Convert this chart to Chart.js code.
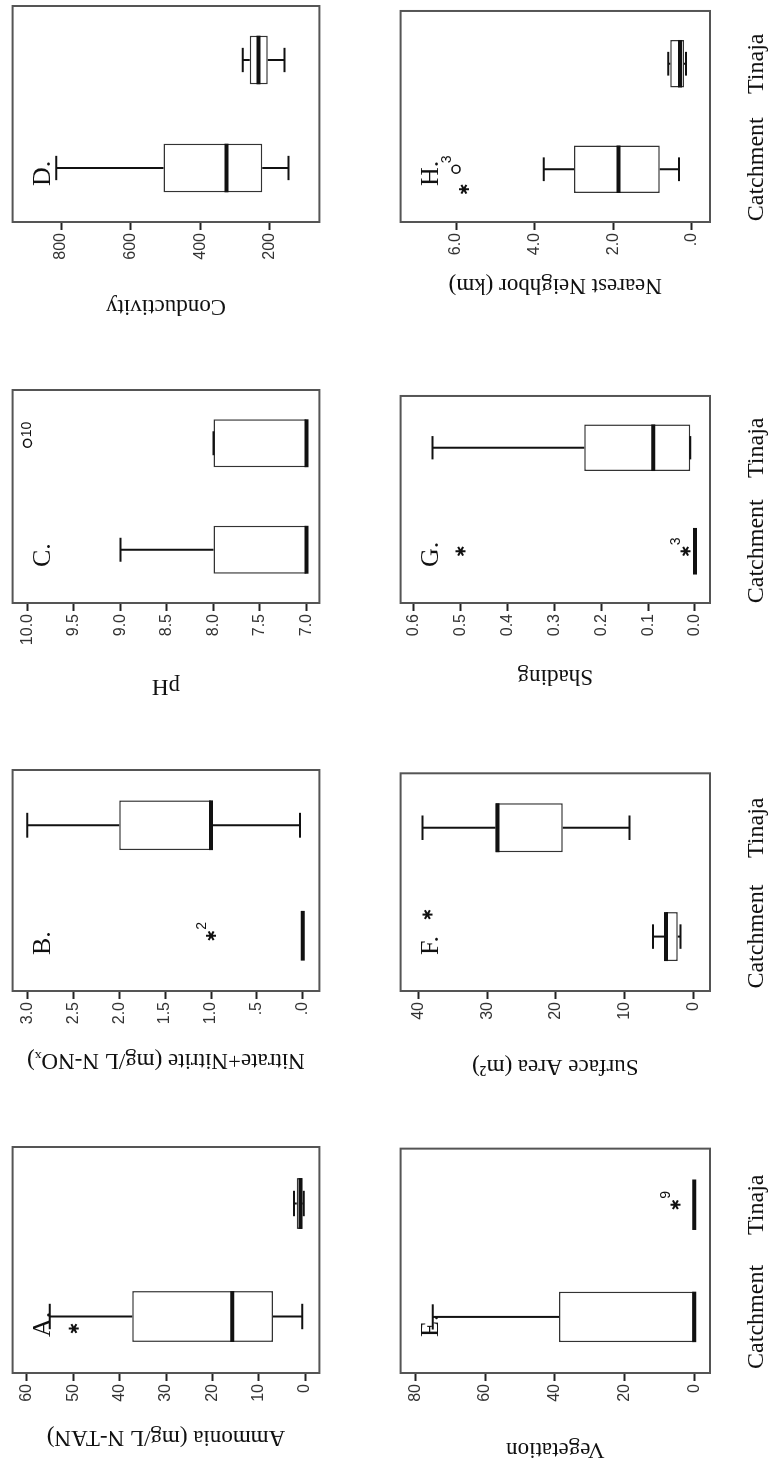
<!DOCTYPE html>
<html>
<head>
<meta charset="utf-8">
<script src="https://cdn.jsdelivr.net/npm/chart.js@4.4.0/dist/chart.umd.min.js"></script>
<style>
  html, body { margin: 0; padding: 0; background: #fff; overflow: hidden; }
  /* the figure is laid out landscape and turned a quarter to the left */
  #page { position: absolute; left: 0; top: 0; width: 1465px; height: 770px;
          transform-origin: 0 0; transform: translate(0, 1465px) rotate(-90deg); }
  #page canvas { position: absolute; }
</style>
</head>
<body>
<div id="page"></div>
<script>
const categories = ["Catchment", "Tinaja"];

// [min, q1, median, q3, max] for Catchment, Tinaja
const ammonia = [[0.6, 6.9, 15.7, 37.3, 55.1], [0.3, 0.6, 1.0, 1.8, 2.4]];
const nitrate = [[0, 0, 0, 0, 0], [0.03, 1.0, 1.0, 2.0, 3.0]];
const ph = [[7.0, 7.0, 7.0, 8.0, 9.0], [7.0, 7.0, 7.0, 8.0, 8.0]];
const conductivity = [[147, 222, 325, 506, 814], [158, 206, 233, 258, 278]];
const vegetation = [[0, 0, 0, 38.8, 75], [0, 0, 0, 0, 0]];
const surfaceArea = [[1.9, 2.3, 4.0, 4.0, 5.9], [9.3, 19.0, 28.5, 28.8, 39.4]];
const shading = [[0, 0, 0, 0, 0], [0.01, 0.01, 0.089, 0.236, 0.56]];
const neighbor = [[0.33, 0.82, 1.87, 3.0, 3.77], [0.15, 0.2, 0.3, 0.55, 0.6]];

// outliers: [category index, value, symbol, case label]
const ammoniaOut = [[0, 49.9, "*", ""]];
const nitrateOut = [[0, 1.0, "*", "2"]];
const phOut = [[1, 10.0, "o", "10"]];
const conductivityOut = [];
const vegetationOut = [[1, 5.4, "*", "9"]];
const surfaceAreaOut = [[0, 38.7, "*", ""]];
const shadingOut = [[0, 0.02, "*", "3"], [0, 0.5, "*", ""]];
const neighborOut = [[0, 6.0, "o", "3"], [0, 5.8, "*", ""]];

// axis ranges and ticks
const ammoniaRange = [-3.1, 63.1], ammoniaTicks = [0, 10, 20, 30, 40, 50, 60];
const nitrateRange = [-0.18, 3.16], nitrateTicks = [0, 0.5, 1, 1.5, 2, 2.5, 3];
const phRange = [6.86, 10.16], phTicks = [7, 7.5, 8, 8.5, 9, 9.5, 10];
const conductivityRange = [58, 939], conductivityTicks = [200, 400, 600, 800];
const vegetationRange = [-4.5, 84.2], vegetationTicks = [0, 20, 40, 60, 80];
const surfaceAreaRange = [-2.4, 42.6], surfaceAreaTicks = [0, 10, 20, 30, 40];
const shadingRange = [-0.032, 0.628], shadingTicks = [0, 0.1, 0.2, 0.3, 0.4, 0.5, 0.6];
const neighborRange = [-0.46, 7.41], neighborTicks = [0, 2, 4, 6];

// SPSS style numbers: "1.0", ".5"
const spss = v => { const s = v.toFixed(1); return s.startsWith("0") ? s.slice(1) : s; };
const plain = v => String(v);
const oneDec = v => v.toFixed(1);

// outShift: sideways nudge (px) of each outlier mark so overlapping ones stay apart
const panels = [
  {letter: "A.", title: "Ammonia (mg/L N-TAN)", box: ammonia, out: ammoniaOut, outShift: [-12], range: ammoniaRange, ticks: ammoniaTicks, fmt: plain, col: 0, row: 0, axisW: 82},
  {letter: "B.", title: "Nitrate+Nitrite (mg/L N-NOₓ)", box: nitrate, out: nitrateOut, outShift: [0], range: nitrateRange, ticks: nitrateTicks, fmt: spss, col: 1, row: 0, axisW: 87},
  {letter: "C.", title: "pH", box: ph, out: phOut, outShift: [0], range: phRange, ticks: phTicks, fmt: oneDec, col: 2, row: 0, axisW: 101},
  {letter: "D.", title: "Conductivity", box: conductivity, out: conductivityOut, outShift: [], range: conductivityRange, ticks: conductivityTicks, fmt: plain, col: 3, row: 0, axisW: 102},
  {letter: "E.", title: "Vegetation", box: vegetation, out: vegetationOut, outShift: [0], range: vegetationRange, ticks: vegetationTicks, fmt: plain, col: 0, row: 1, axisW: 94},
  {letter: "F.", title: "Surface Area (m²)", box: surfaceArea, out: surfaceAreaOut, outShift: [22], range: surfaceAreaRange, ticks: surfaceAreaTicks, fmt: plain, col: 1, row: 1, axisW: 93},
  {letter: "G.", title: "Shading", box: shading, out: shadingOut, outShift: [0, 0], range: shadingRange, ticks: shadingTicks, fmt: oneDec, col: 2, row: 1, axisW: 91},
  {letter: "H.", title: "Nearest Neighbor (km)", box: neighbor, out: neighborOut, outShift: [0, -20], range: neighborRange, ticks: neighborTicks, fmt: spss, col: 3, row: 1, axisW: 81}
];

const colLeft = [92, 474, 862, 1243];
const colWidth = [226, 221, 213, 216];
const rowTop = [0, 388], rowPad = [12, 10], rowAxisH = [4, 60], rowHeight = [332, 382];

// whiskers, medians, outliers, panel letter and frame
const boxParts = {
  id: "boxParts",
  afterDatasetsDraw(chart, args, opts) {
    const {ctx, chartArea: a, scales: {x, y}} = chart;
    const p = opts.panel;
    const bars = chart.getDatasetMeta(0).data;
    ctx.save();
    ctx.strokeStyle = "#111";
    ctx.fillStyle = "#111";
    p.box.forEach((s, i) => {
      const cx = bars[i].x, w = bars[i].width;
      const [mn, q1, md, q3, mx] = s.map(v => y.getPixelForValue(v));
      ctx.lineWidth = 2;
      ctx.beginPath();
      ctx.moveTo(cx, q3); ctx.lineTo(cx, mx);
      ctx.moveTo(cx - w / 4, mx); ctx.lineTo(cx + w / 4, mx);
      ctx.moveTo(cx, q1); ctx.lineTo(cx, mn);
      ctx.moveTo(cx - w / 4, mn); ctx.lineTo(cx + w / 4, mn);
      ctx.stroke();
      ctx.lineWidth = 4;
      ctx.beginPath();
      ctx.moveTo(cx - w / 2, md); ctx.lineTo(cx + w / 2, md);
      ctx.stroke();
    });
    p.out.forEach(([ci, v, sym, lab], k) => {
      const cx = x.getPixelForValue(ci) + (p.outShift[k] || 0), py = y.getPixelForValue(v);
      if (sym === "*") {
        ctx.lineWidth = 2;
        ctx.beginPath();
        for (let j = 0; j < 3; j++) {
          const ang = Math.PI / 2 + j * Math.PI / 3;
          ctx.moveTo(cx - 5 * Math.cos(ang), py - 5 * Math.sin(ang));
          ctx.lineTo(cx + 5 * Math.cos(ang), py + 5 * Math.sin(ang));
        }
        ctx.stroke();
      } else {
        ctx.lineWidth = 1.5;
        ctx.beginPath();
        ctx.arc(cx, py, 4, 0, Math.PI * 2);
        ctx.stroke();
      }
      if (lab) {
        ctx.font = "14px 'Liberation Sans'";
        ctx.textAlign = "left";
        ctx.textBaseline = "middle";
        ctx.fillText(lab, cx + 6, sym === "o" && lab.length > 1 ? py : py - 9);
      }
    });
    ctx.font = "26px 'Liberation Serif'";
    ctx.textAlign = "left";
    ctx.textBaseline = "middle";
    ctx.fillText(p.letter, a.left + 36, a.top + 31);
    ctx.strokeStyle = "#555";
    ctx.lineWidth = 2;
    ctx.strokeRect(a.left, a.top, a.right - a.left, a.bottom - a.top);
    ctx.restore();
  }
};

const page = document.getElementById("page");

panels.forEach(p => {
  const canvas = document.createElement("canvas");
  const w = p.axisW + colWidth[p.col] + 6;
  canvas.width = w;
  canvas.height = rowHeight[p.row];
  canvas.style.left = (colLeft[p.col] - p.axisW) + "px";
  canvas.style.top = rowTop[p.row] + "px";
  canvas.style.width = w + "px";
  canvas.style.height = rowHeight[p.row] + "px";
  page.appendChild(canvas);

  new Chart(canvas, {
    type: "bar",
    data: {
      labels: categories,
      datasets: [{
        data: p.box.map(s => [s[1], s[3]]),
        backgroundColor: "#fff",
        borderColor: "#333",
        borderWidth: 1.5,
        borderSkipped: false,
        barPercentage: 0.9,
        categoryPercentage: 0.5
      }]
    },
    options: {
      responsive: false,
      animation: false,
      devicePixelRatio: 1,
      layout: {padding: {top: rowPad[p.row], right: 6, left: 0, bottom: 0}},
      plugins: {
        legend: {display: false},
        tooltip: {enabled: false},
        boxParts: {panel: p}
      },
      scales: {
        x: {
          offset: true,
          grid: {display: false, drawTicks: false},
          border: {display: false},
          ticks: {display: p.row === 1, autoSkip: false, color: "#111", padding: 32, maxRotation: 0,
                  font: {family: "Liberation Serif", size: 24}},
          afterFit: s => { s.height = rowAxisH[p.row]; }
        },
        y: {
          min: p.range[0],
          max: p.range[1],
          afterBuildTicks: s => { s.ticks = p.ticks.map(v => ({value: v})); },
          afterFit: s => { s.width = p.axisW; },
          grid: {drawOnChartArea: false, drawTicks: true, tickLength: 8, tickColor: "#222", tickWidth: 2},
          border: {display: false},
          ticks: {callback: v => p.fmt(v), color: "#333", padding: 3,
                  font: {family: "Liberation Sans", size: 16}},
          title: {display: true, text: p.title, color: "#111", padding: {top: 4, bottom: 4},
                  font: {family: "Liberation Serif", size: 23}}
        }
      }
    },
    plugins: [boxParts]
  });
});
</script>
</body>
</html>
